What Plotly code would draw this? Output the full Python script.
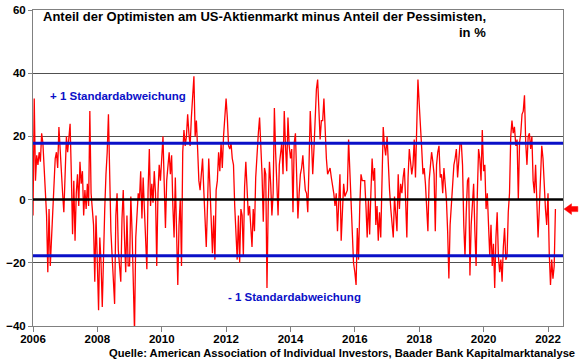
import pandas as pd
import plotly.graph_objects as go

# Bull-bear spread (AAII), roughly bi-weekly, per year
v2006 = [-5, 32, 6, 14, 11, 15, 12, 21, 18, 10, 3, -5, -23, -3, -21, -12, -3, 5, 13, 15, 10, 23, 15, 8, 2, -4]
v2007 = [11, 20, 15, 19, 24, 8, -11, 6, -13, 2, 8, -2, 12, 5, 9, -5, 3, -3, 5, -2, 28, 2, -3, -8, -26, -5]
v2008 = [-20, -35, -12, -20, -34, -14, -3, 8, 15, 27, 2, -10, -18, -28, -33, -5, 2, -16, -22, -26, -6, 3, -12, -23, -5, -21]
v2009 = [-21, 1, -10, -24, -42, -12, -3, 2, 0, 9, -6, 7, -3, -15, -22, 3, 16, -2, 5, -1, 9, 2, -21, 2, 11, 6]
v2010 = [14, 20, 5, -9, 6, 12, 15, 8, 14, -2, -12, 7, -10, -27, -8, 0, -21, 15, 22, 17, 20, 27, 21, 17, 26, 34]
v2011 = [39, 20, 25, 16, 6, 3, 8, 13, 3, -8, -15, -2, 13, 4, -10, -17, -5, -19, 3, 6, 15, 9, 18, 10, 20, 26]
v2012 = [32, 26, 17, 16, 18, 13, 11, -2, -10, -19, -5, -20, -3, -5, -18, 4, 12, 2, -5, -2, -8, -15, -3, -10, 7, 15]
v2013 = [21, 26, 17, 8, -7, 10, 8, -28, -2, 12, 5, -5, 2, 29, 15, 6, -5, 11, 14, 18, 8, 28, 17, 9, 26, 17]
v2014 = [13, 16, -4, 18, 21, 8, -6, 2, 8, 10, 14, 8, 3, 2, -4, 11, 28, 19, 8, 16, 26, 35, 38, 27, 19, 25]
v2015 = [25, 32, 21, 13, 8, 9, 10, 7, 5, 2, -2, 2, -10, 2, 8, -13, -3, 5, 1, 2, 3, 19, 8, -4, -10, -20]
v2016 = [-23, -27, -9, -19, -2, 8, 6, 6, 6, -2, -12, 0, -11, 2, 13, 6, 10, -8, -2, -13, -4, -12, 7, 23, 17, 14]
v2017 = [20, 8, 3, -3, -7, -12, 1, -4, -10, 8, -3, 5, 2, 7, 10, 0, -12, 7, 16, 12, 8, 11, 19, 7, 20, 38]
v2018 = [30, 24, 16, 8, 10, 5, -3, -10, 6, 11, 15, 12, 8, -10, 11, 15, 17, 7, 8, 2, 10, 5, 0, -10, -25, -8]
v2019 = [0, 7, 11, 13, 16, 7, 14, 18, 18, 11, -8, -18, -4, 6, 7, -24, -8, 0, 5, -10, -21, 2, 16, 13, 6, 22]
v2020 = [9, 11, -3, 2, -10, -18, -8, -21, -14, -28, -12, -4, -18, -23, -19, -26, -15, -9, -19, -18, -4, 2, 20, 25, 21, 23]
v2021 = [17, 19, 0, 18, 21, 27, 28, 33, 18, 11, 20, 21, 16, 20, 6, 2, 11, -2, -12, -3, 11, 17, 13, 2, -3, -8]
v2022 = [2, -17, -27, -19, -25, -21, -3]

years = list(range(2006, 2023))
series_by_year = [v2006, v2007, v2008, v2009, v2010, v2011, v2012, v2013, v2014,
                  v2015, v2016, v2017, v2018, v2019, v2020, v2021, v2022]

std_upper = 17.8
std_lower = -17.8

tick_years = [2006, 2008, 2010, 2012, 2014, 2016, 2018, 2020, 2022]
y_ticks = [-40, -20, 0, 20, 40, 60]

title_line1 = "Anteil der Optimisten am US-Aktienmarkt minus Anteil der Pessimisten,"
title_line2 = "in %"
label_upper = "+ 1 Standardabweichung"
label_lower = "- 1 Standardabweichung"
source = "Quelle: American Association of Individual Investors, Baader Bank Kapitalmarktanalyse"

dates, values = [], []
for yr, vals in zip(years, series_by_year):
    d = pd.date_range(f"{yr}-01-01", periods=len(vals), freq="14D")
    dates.extend(d)
    values.extend(vals)

FONT = "Arial, 'Liberation Sans', sans-serif"
BLUE = "#0A10C8"
RED = "#FF0000"

fig = go.Figure()
fig.add_trace(go.Scatter(x=dates, y=values, mode="lines",
                         line=dict(color=RED, width=1.3), hoverinfo="skip",
                         showlegend=False))

# black zero line and +/- 1 std lines
fig.add_shape(type="line", xref="paper", x0=0, x1=1, yref="y", y0=0, y1=0,
              line=dict(color="black", width=2.5), layer="above")
for v in (std_upper, std_lower):
    fig.add_shape(type="line", xref="paper", x0=0, x1=1, yref="y", y0=v, y1=v,
                  line=dict(color=BLUE, width=3), layer="above")

# red arrow pointing at the last value
last = values[-1]
fig.add_shape(type="path", xref="paper", yref="y",
              path=(f"M 1.002 {last} L 1.016 {last+1.7} L 1.016 {last+0.8} "
                    f"L 1.028 {last+0.8} L 1.028 {last-0.8} L 1.016 {last-0.8} "
                    f"L 1.016 {last-1.7} Z"),
              fillcolor=RED, line=dict(color=RED, width=0.5), layer="above")

fig.add_annotation(text=f"<b>{title_line1}</b>", xref="paper", yref="paper",
                   x=0.858, y=0.978, xanchor="right", yanchor="middle",
                   showarrow=False, font=dict(family=FONT, size=13, color="black"))
fig.add_annotation(text=f"<b>{title_line2}</b>", xref="paper", yref="paper",
                   x=0.858, y=0.930, xanchor="right", yanchor="middle",
                   showarrow=False, font=dict(family=FONT, size=13, color="black"))
fig.add_annotation(text=f"<b>{label_upper}</b>", xref="paper", yref="paper",
                   x=0.0285, y=0.727, xanchor="left", yanchor="middle",
                   showarrow=False, font=dict(family=FONT, size=11.5, color=BLUE))
fig.add_annotation(text=f"<b>{label_lower}</b>", xref="paper", yref="paper",
                   x=0.364, y=0.092, xanchor="left", yanchor="middle",
                   showarrow=False, font=dict(family=FONT, size=11.5, color=BLUE))
fig.add_annotation(text=f"<b>{source}</b>", xref="paper", yref="paper",
                   x=1.026, y=-0.084, xanchor="right", yanchor="middle",
                   showarrow=False, font=dict(family=FONT, size=11.2, color="black"))

fig.update_xaxes(type="date", range=["2006-01-01", "2022-06-20"],
                 tickvals=[f"{y}-01-01" for y in tick_years],
                 ticktext=[str(y) for y in tick_years],
                 showgrid=False, zeroline=False, showline=True, mirror=True,
                 linecolor="#808080", linewidth=1, automargin=False,
                 ticks="outside", ticklen=5, tickcolor="#808080",
                 ticklabelstandoff=-3,
                 tickfont=dict(family=FONT, size=11.5, color="black", weight="bold"))
fig.update_yaxes(range=[-40, 60], tickvals=y_ticks,
                 showgrid=True, gridcolor="#505050", gridwidth=1, zeroline=False,
                 showline=True, mirror=True, linecolor="#808080", linewidth=1,
                 automargin=False,
                 ticks="outside", ticklen=4, tickcolor="#808080",
                 tickfont=dict(family=FONT, size=11.5, color="black", weight="bold"))

fig.update_layout(width=580, height=359, margin=dict(l=33, r=17, t=10, b=33, autoexpand=False),
                  paper_bgcolor="white", plot_bgcolor="white", showlegend=False)

fig.write_html("out.html", config={"displayModeBar": False},
               post_script="document.body.style.margin='0px';document.body.style.padding='0px';")
